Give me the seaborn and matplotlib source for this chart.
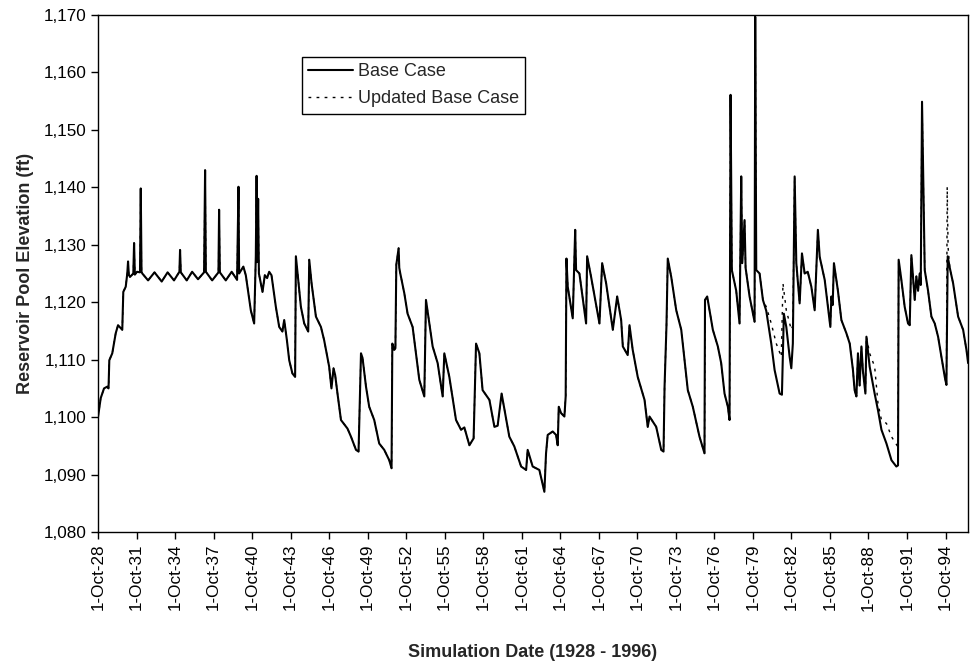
import numpy as np
import pandas as pd
import matplotlib
matplotlib.use("Agg")
import matplotlib.pyplot as plt
from matplotlib.ticker import FuncFormatter
import seaborn as sns

# ---------------- data (decimal years, elevation in ft) ----------------
t_base = [
    1928.75, 1928.96, 1929.22, 1929.47, 1929.57, 1929.63, 1929.86, 1930.13, 1930.31, 1930.64, 1930.72, 1930.91,
    1931.03, 1931.09, 1931.15, 1931.24, 1931.50, 1931.56, 1931.62, 1931.79, 1932.02, 1932.08, 1932.14, 1932.20,
    1932.65, 1933.15, 1933.71, 1934.17, 1934.67, 1935.09, 1935.14, 1935.20, 1935.66, 1936.08, 1936.54, 1937.01,
    1937.09, 1937.15, 1937.64, 1938.13, 1938.18, 1938.24, 1938.70, 1939.16, 1939.58, 1939.69, 1939.74, 1940.07,
    1940.26, 1940.65, 1940.91, 1941.04, 1941.10, 1941.16, 1941.22, 1941.28, 1941.56, 1941.74, 1941.92, 1942.08,
    1942.26, 1942.60, 1942.86, 1943.11, 1943.25, 1943.46, 1943.64, 1943.89, 1944.10, 1944.16, 1944.34, 1944.55,
    1944.81, 1945.12, 1945.20, 1945.38, 1945.72, 1946.11, 1946.36, 1946.75, 1946.93, 1947.09, 1947.22, 1947.40,
    1947.67, 1948.18, 1948.45, 1948.84, 1949.04, 1949.23, 1949.35, 1949.62, 1949.87, 1950.26, 1950.65, 1951.04,
    1951.43, 1951.61, 1951.67, 1951.82, 1951.91, 1951.98, 1952.16, 1952.21, 1952.29, 1952.60, 1952.86, 1953.25,
    1953.77, 1954.16, 1954.29, 1954.81, 1955.20, 1955.59, 1955.72, 1956.11, 1956.63, 1957.02, 1957.28, 1957.67,
    1958.00, 1958.19, 1958.45, 1958.70, 1959.23, 1959.62, 1959.87, 1960.18, 1960.78, 1961.17, 1961.70, 1962.09,
    1962.21, 1962.60, 1963.12, 1963.51, 1963.64, 1963.77, 1964.16, 1964.42, 1964.55, 1964.63, 1964.81, 1965.07,
    1965.17, 1965.23, 1965.33, 1965.72, 1965.91, 1965.98, 1966.24, 1966.76, 1966.84, 1967.15, 1967.80, 1968.01,
    1968.32, 1968.84, 1969.18, 1969.49, 1969.62, 1970.00, 1970.14, 1970.39, 1970.78, 1971.31, 1971.56, 1971.70,
    1972.22, 1972.61, 1972.79, 1972.87, 1973.02, 1973.12, 1973.39, 1973.78, 1974.17, 1974.68, 1975.07, 1975.59,
    1975.98, 1976.02, 1976.19, 1976.37, 1976.63, 1977.02, 1977.28, 1977.54, 1977.80, 1977.93, 1978.01, 1978.11,
    1978.45, 1978.71, 1978.84, 1978.92, 1979.10, 1979.18, 1979.49, 1979.88, 1979.93, 1980.01, 1980.27, 1980.53,
    1980.79, 1981.18, 1981.44, 1981.83, 1982.01, 1982.16, 1982.35, 1982.61, 1982.74, 1982.86,
    1983.00, 1983.13, 1983.39, 1983.57, 1983.78, 1984.02, 1984.30, 1984.56, 1984.81, 1984.95, 1985.34, 1985.59,
    1985.78, 1985.86, 1985.96, 1986.06, 1986.37, 1986.64, 1987.03, 1987.29, 1987.54, 1987.67, 1987.81, 1987.93,
    1988.06, 1988.20, 1988.32, 1988.51, 1988.59,
    1988.84, 1989.23, 1989.49, 1989.76, 1990.15, 1990.54, 1990.92, 1991.05,
    1991.10, 1991.31, 1991.57, 1991.83, 1991.96, 1992.09, 1992.35, 1992.48, 1992.61, 1992.74, 1992.82, 1992.92,
    1993.13, 1993.39, 1993.65, 1993.91, 1994.17, 1994.43, 1994.69, 1994.82, 1994.92, 1995.08, 1995.34, 1995.73,
    1996.12, 1996.38, 1996.51,
]
elev_base = [
    1100.0, 1103.3, 1105.0, 1105.3, 1105.0, 1109.9, 1111.1, 1114.6, 1116.0, 1115.2, 1121.8, 1122.7,
    1125.0, 1127.1, 1124.8, 1124.4, 1125.0, 1130.3, 1124.8, 1125.3, 1125.2, 1139.8, 1125.3, 1125.0,
    1123.8, 1125.2, 1123.6, 1125.2, 1123.8, 1125.3, 1129.1, 1125.2, 1123.8, 1125.3, 1124.0, 1125.2,
    1143.0, 1125.3, 1123.8, 1125.2, 1136.1, 1125.2, 1123.8, 1125.3, 1123.9, 1140.1, 1125.0, 1126.2,
    1124.7, 1118.6, 1116.3, 1128.0, 1142.0, 1127.0, 1138.0, 1125.0, 1121.8, 1124.7, 1124.2, 1125.3,
    1124.7, 1119.2, 1115.7, 1114.9, 1116.9, 1113.4, 1109.9, 1107.6, 1107.0, 1128.0, 1123.9, 1119.2,
    1116.3, 1114.9, 1127.4, 1123.3, 1117.5, 1115.7, 1113.4, 1108.8, 1105.0, 1108.5, 1107.3, 1104.1,
    1099.5, 1098.0, 1096.6, 1094.3, 1094.0, 1111.1, 1110.3, 1105.3, 1101.8, 1099.5, 1095.4, 1094.3,
    1092.5, 1091.1, 1112.8, 1111.7, 1112.0, 1126.5, 1129.4, 1126.0, 1125.0, 1121.6, 1118.0, 1115.7,
    1106.5, 1103.6, 1120.4, 1112.3, 1109.4, 1103.6, 1111.1, 1107.0, 1099.5, 1097.8, 1098.2, 1095.1,
    1096.3, 1112.8, 1111.1, 1104.7, 1103.0, 1098.3, 1098.5, 1104.1, 1096.6, 1094.9, 1091.4, 1090.8,
    1094.3, 1091.4, 1090.8, 1087.0, 1093.7, 1096.9, 1097.5, 1096.9, 1095.1, 1101.8, 1100.7, 1100.1,
    1103.6, 1127.6, 1122.7, 1117.2, 1132.6, 1125.6, 1125.0, 1116.3, 1128.0, 1124.4, 1116.3, 1126.8,
    1123.3, 1115.2, 1121.0, 1116.9, 1112.3, 1110.8, 1116.0, 1111.7, 1107.0, 1103.0, 1098.3, 1100.1,
    1098.3, 1094.3, 1094.0, 1105.3, 1116.0, 1127.6, 1124.4, 1118.6, 1115.2, 1104.7, 1101.8, 1096.6,
    1093.7, 1120.4, 1121.0, 1118.6, 1115.2, 1112.3, 1109.4, 1104.1, 1101.8, 1099.5, 1156.1, 1125.6,
    1122.0, 1116.3, 1141.9, 1126.8, 1134.3, 1126.0, 1121.0, 1116.6, 1169.7, 1125.6, 1125.0, 1120.4,
    1118.5, 1112.8, 1108.2, 1104.1, 1103.9, 1118.0, 1115.7, 1110.5, 1108.5, 1112.8,
    1141.9, 1126.8, 1119.8, 1128.5, 1125.0, 1125.3, 1122.7, 1118.6, 1132.6, 1127.9, 1123.9, 1119.2,
    1115.7, 1121.0, 1119.5, 1126.8, 1122.0, 1116.9, 1114.6, 1112.8, 1108.2, 1104.7, 1103.6, 1111.1,
    1105.5, 1112.3, 1108.0, 1104.1, 1114.0,
    1108.8, 1104.1, 1101.2, 1097.8, 1095.4, 1092.5, 1091.4, 1091.6,
    1127.4, 1123.9, 1119.2, 1116.3, 1116.0, 1128.2, 1120.4, 1124.5, 1122.0, 1125.0, 1123.0, 1154.9,
    1125.6, 1122.0, 1117.5, 1116.3, 1114.0, 1110.5, 1107.0, 1105.6, 1128.0, 1126.0, 1123.3, 1117.5,
    1115.2, 1111.7, 1109.4,
]

# Updated Base Case: identical to Base Case except in these periods
t_upd_1 = [1980.79, 1981.18, 1981.57, 1981.96, 1982.09, 1982.35, 1982.74, 1982.86]
elev_upd_1 = [1119.2, 1116.3, 1112.8, 1110.5, 1123.3, 1118.6, 1115.2, 1116.0]
t_upd_2 = [1988.84, 1989.23, 1989.49, 1989.76, 1990.15, 1990.54, 1991.05]
elev_upd_2 = [1111.1, 1108.8, 1102.4, 1099.5, 1098.9, 1096.6, 1094.8]
t_upd_3 = [1994.88, 1994.95]
elev_upd_3 = [1140.1, 1129.5]

x_tick_labels = ['1-Oct-28', '1-Oct-31', '1-Oct-34', '1-Oct-37', '1-Oct-40', '1-Oct-43',
                 '1-Oct-46', '1-Oct-49', '1-Oct-52', '1-Oct-55', '1-Oct-58', '1-Oct-61',
                 '1-Oct-64', '1-Oct-67', '1-Oct-70', '1-Oct-73', '1-Oct-76', '1-Oct-79',
                 '1-Oct-82', '1-Oct-85', '1-Oct-88', '1-Oct-91', '1-Oct-94']
series_names = ['Base Case', 'Updated Base Case']

# ---------------- build tables ----------------
base_df = pd.DataFrame({'t': t_base, 'elev': elev_base})
upd_df = base_df.copy()
for ts, vs in [(t_upd_1, elev_upd_1), (t_upd_2, elev_upd_2), (t_upd_3, elev_upd_3)]:
    upd_df = upd_df[(upd_df['t'] < min(ts)) | (upd_df['t'] > max(ts))]
    upd_df = pd.concat([upd_df, pd.DataFrame({'t': ts, 'elev': vs})])
upd_df = upd_df.sort_values('t').reset_index(drop=True)

# ---------------- plot ----------------
sns.set_style("ticks")
plt.rcParams['font.family'] = ['Liberation Sans', 'DejaVu Sans']

fig = plt.figure(figsize=(9.75, 6.66), dpi=100)
ax = fig.add_axes([98 / 975, 1 - 532 / 666, (968 - 98) / 975, (532 - 15) / 666])

sns.lineplot(data=base_df, x='t', y='elev', ax=ax, color='black', linewidth=1.5,
             estimator=None, sort=False, label=series_names[0])
sns.lineplot(data=upd_df, x='t', y='elev', ax=ax, color='black', linewidth=1.0,
             linestyle=(0, (2, 3.8)), estimator=None, sort=False, label=series_names[1])

ax.set_xlim(1928.75, 1996.5)
ax.set_ylim(1080, 1170)
ax.set_yticks(np.arange(1080, 1171, 10))
ax.yaxis.set_major_formatter(FuncFormatter(lambda v, p: f"{v:,.0f}"))
ax.set_xticks([1928.75 + 3 * i for i in range(len(x_tick_labels))])
ax.set_xticklabels(x_tick_labels, rotation=90)

ax.tick_params(axis='both', direction='out', length=5, width=1, colors='black', labelsize=12.3)
for s in ax.spines.values():
    s.set_visible(True)
    s.set_color('black')
    s.set_linewidth(1.0)

ax.set_ylabel('Reservoir Pool Elevation (ft)', fontsize=13, fontweight='bold', labelpad=7)
ax.set_xlabel('Simulation Date (1928 - 1996)', fontsize=13, fontweight='bold', labelpad=24)

leg = ax.legend(loc='upper left', bbox_to_anchor=(302 / 975, 1 - 57 / 666),
                bbox_transform=fig.transFigure, frameon=True, fancybox=False,
                edgecolor='black', framealpha=1, fontsize=13, handlelength=2.5,
                handletextpad=0.25, borderpad=0.35, labelspacing=0.55, borderaxespad=0)
leg.get_frame().set_linewidth(1.0)

fig.savefig('out.png', dpi=100, facecolor='white')
